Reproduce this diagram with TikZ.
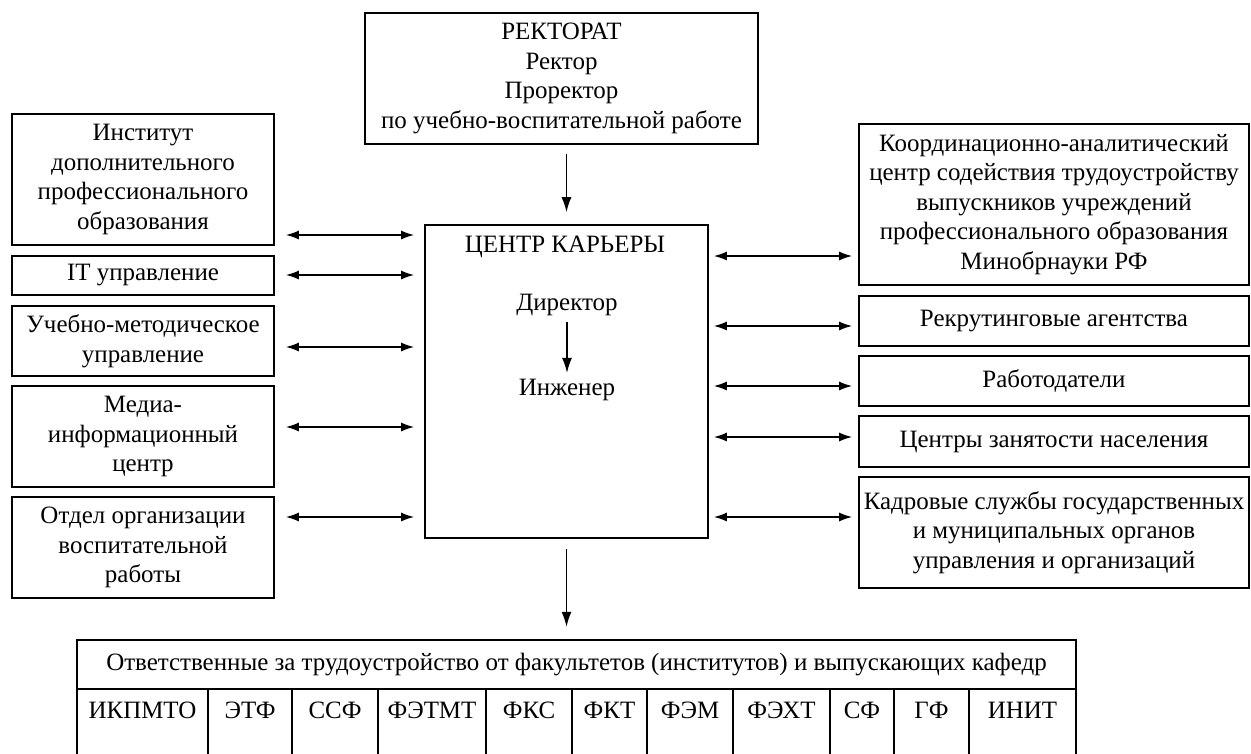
\documentclass[tikz,border=0pt]{standalone}
\usepackage{fontspec}
\setmainfont{Liberation Serif}
\usetikzlibrary{positioning,arrows.meta}

\begin{document}
\begin{tikzpicture}[
        box/.style={draw, line width=0.9pt, align=center, inner sep=0pt},
        cell/.style={draw, line width=1.3pt, inner sep=0pt, anchor=base, text height=0.58cm, text depth=1.3cm},
        arr/.style={-{Latex[length=0.3cm,width=0.2cm]}, line width=0.9pt},
        both/.style={{Latex[length=0.26cm,width=0.18cm]}-{Latex[length=0.26cm,width=0.18cm]}, line width=0.9pt},
        font=\fontsize{14.2pt}{16.8pt}\selectfont
    ]
    \clip (0,0) rectangle (25.02,-15.06);

    % Rectorate
    \node[box, minimum width=7.86cm, minimum height=2.62cm] (rector) at (11.23,-1.57) {РЕКТОРАТ\\Ректор\\Проректор\\по учебно-воспитательной работе};

    % Career centre
    \node[box, minimum width=5.66cm, minimum height=6.26cm] (career) at (11.33,-7.63) {};
    \node (title) at (11.30,-4.94) {ЦЕНТР КАРЬЕРЫ};
    \node (director) at (11.34,-6.10) {Директор};
    \node (engineer) at (11.34,-7.80) {Инженер};
    \draw[arr] (director) -- (engineer);
    \draw[arr, shorten <=0.18cm, shorten >=0.24cm] (rector.south -| career.north) -- (career.north);

    % Left column
    \node[box, minimum width=5.24cm, minimum height=2.62cm] (inst) at (2.86,-3.59) {Институт\\дополнительного\\профессионального\\образования};
    \node[box, minimum width=5.24cm, minimum height=0.78cm] (it) at (2.86,-5.51) {IT управление};
    \node[box, minimum width=5.24cm, minimum height=1.40cm] (umu) at (2.86,-6.82) {Учебно-методическое\\управление};
    \node[box, minimum width=5.24cm, minimum height=2.02cm] (media) at (2.86,-8.73) {Медиа-\\информационный\\центр};
    \node[box, minimum width=5.24cm, minimum height=2.02cm] (vosp) at (2.86,-10.95) {Отдел организации\\воспитательной\\работы};
    \draw[both, shorten <=0.22cm, shorten >=0.2cm] (inst.east |- 0,-4.70) -- (career.west |- 0,-4.70);
    \draw[both, shorten <=0.22cm, shorten >=0.2cm] (it.east |- 0,-5.50) -- (career.west |- 0,-5.50);
    \draw[both, shorten <=0.22cm, shorten >=0.2cm] (umu.east |- 0,-6.94) -- (career.west |- 0,-6.94);
    \draw[both, shorten <=0.22cm, shorten >=0.2cm] (media.east |- 0,-8.54) -- (career.west |- 0,-8.54);
    \draw[both, shorten <=0.22cm, shorten >=0.2cm] (vosp.east |- 0,-10.34) -- (career.west |- 0,-10.34);

    % Right column
    \node[box, minimum width=7.80cm, minimum height=3.22cm] (koord) at (21.08,-4.09) {Координационно-аналитический\\центр содействия трудоустройству\\выпускников учреждений\\профессионального образования\\Минобрнауки РФ};
    \node[box, minimum width=7.80cm, minimum height=1.00cm] (recruit) at (21.08,-6.42) {Рекрутинговые агентства};
    \node[box, minimum width=7.80cm, minimum height=1.00cm] (employers) at (21.08,-7.62) {Работодатели};
    \node[box, minimum width=7.80cm, minimum height=1.02cm] (jobcentres) at (21.08,-8.83) {Центры занятости населения};
    \node[box, minimum width=7.80cm, minimum height=2.22cm] (hr) at (21.08,-10.65) {Кадровые службы государственных\\и муниципальных органов\\управления и организаций};
    \draw[both, shorten <=0.1cm, shorten >=0.12cm] (career.east |- 0,-5.12) -- (koord.west |- 0,-5.12);
    \draw[both, shorten <=0.1cm, shorten >=0.12cm] (career.east |- 0,-6.52) -- (recruit.west |- 0,-6.52);
    \draw[both, shorten <=0.1cm, shorten >=0.12cm] (career.east |- 0,-7.72) -- (employers.west |- 0,-7.72);
    \draw[both, shorten <=0.1cm, shorten >=0.12cm] (career.east |- 0,-8.74) -- (jobcentres.west |- 0,-8.74);
    \draw[both, shorten <=0.1cm, shorten >=0.12cm] (career.east |- 0,-10.34) -- (hr.west |- 0,-10.34);

    % Faculties table
    \node[box, line width=1.3pt, minimum width=19.98cm, minimum height=0.98cm] (header) at (11.53,-13.29) {Ответственные за трудоустройство от факультетов (институтов) и выпускающих кафедр};
    \draw[arr, shorten <=0.2cm, shorten >=0.24cm] (career.south) -- (career.south |- header.north);
    \node[cell, minimum width=2.62cm] (ikpmto) at (2.85,-14.36) {ИКПМТО};
    \node[cell, minimum width=1.68cm] (etf) at (5.00,-14.36) {ЭТФ};
    \node[cell, minimum width=1.72cm] (ssf) at (6.70,-14.36) {ССФ};
    \node[cell, minimum width=2.16cm] (fetmt) at (8.64,-14.36) {ФЭТМТ};
    \node[cell, minimum width=1.72cm] (fks) at (10.58,-14.36) {ФКС};
    \node[cell, minimum width=1.50cm] (fkt) at (12.19,-14.36) {ФКТ};
    \node[cell, minimum width=1.72cm] (fem) at (13.80,-14.36) {ФЭМ};
    \node[cell, minimum width=1.94cm] (feht) at (15.63,-14.36) {ФЭХТ};
    \node[cell, minimum width=1.28cm] (sf) at (17.24,-14.36) {СФ};
    \node[cell, minimum width=1.50cm] (gf) at (18.63,-14.36) {ГФ};
    \node[cell, minimum width=2.14cm] (init) at (20.45,-14.36) {ИНИТ};
\end{tikzpicture}
\end{document}
